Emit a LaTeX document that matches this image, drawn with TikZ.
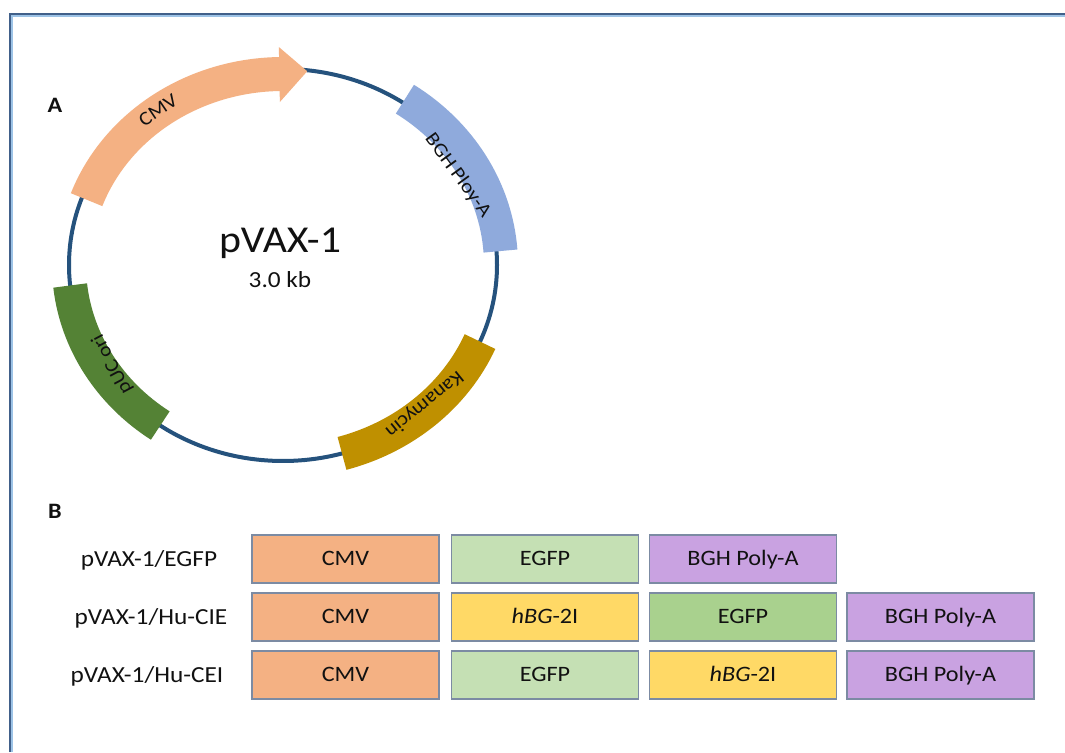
\documentclass[tikz,border=0pt]{standalone}
\usepackage{fontspec}
\setmainfont{Carlito}[FakeStretch=1.1]
\definecolor{ringcol}{HTML}{25527D}
\definecolor{cmvcol}{HTML}{F4B183}
\definecolor{bghcol}{HTML}{8FAADC}
\definecolor{kancol}{HTML}{BF9000}
\definecolor{puccol}{HTML}{548235}
\definecolor{lgreen}{HTML}{C5E0B4}
\definecolor{mgreen}{HTML}{A9D18E}
\definecolor{yelcol}{HTML}{FFD966}
\definecolor{purcol}{HTML}{C9A2E1}
\definecolor{boxline}{HTML}{7C8BA3}
\definecolor{framedark}{HTML}{41608A}
\definecolor{framelight}{HTML}{9DC3E6}
\definecolor{txt}{HTML}{111111}
\begin{document}
\begin{tikzpicture}[x=1pt,y=1pt,
  ring/.style={draw=ringcol,line width=4pt},
  band/.style={line width=34pt},
  arclabel/.style={inner sep=0pt,text height=13pt,text depth=0pt,text=txt,font=\fontsize{19.5}{22}\selectfont},
  genebox/.style={draw=boxline,line width=1.2pt,minimum width=187pt,minimum height=48pt,inner sep=0pt,text height=14pt,text depth=0pt,text=txt,font=\fontsize{22}{26}\selectfont},
  rowlabel/.style={inner sep=0pt,text height=14.5pt,text depth=0pt,text=txt,font=\fontsize{23}{27}\selectfont},
  panel/.style={inner sep=0pt,text height=14pt,text depth=0pt,text=txt,font=\bfseries\fontsize{22}{26}\selectfont}
]
\useasboundingbox (0,0) rectangle (1065,752);
\fill[white] (0,0) rectangle (1065,752);
% frame
\draw[framedark,line width=2pt] (10,0) -- (10,738) -- (1066,738);
\draw[framelight,line width=1.5pt] (11.8,0) -- (11.8,736.2) -- (1066,736.2);

% plasmid ring
\coordinate (C) at (283,487);
\draw[ring] (C) ellipse [x radius=214pt, y radius=196pt];

% CMV arrow
\draw[band,cmvcol] ([shift={(160:209pt and 191pt)}]C) arc[start angle=160,end angle=90.5,x radius=209pt,y radius=191pt];
\fill[cmvcol] ([shift={(91:237pt and 218pt)}]C) -- ([shift={(83.5:214pt and 195pt)}]C) -- ([shift={(91:181pt and 163pt)}]C) -- cycle;
% BGH
\draw[band,bghcol] ([shift={(56:218pt and 200pt)}]C) arc[start angle=56,end angle=4,x radius=218pt,y radius=200pt];
% Kanamycin
\draw[band,kancol] ([shift={(-23:214pt and 196pt)}]C) arc[start angle=-23,end angle=-74,x radius=214pt,y radius=196pt];
% pUC ori
\draw[band,puccol] ([shift={(186:214pt and 196pt)}]C) arc[start angle=186,end angle=235,x radius=214pt,y radius=196pt];

\node[arclabel,rotate=34] (lcmv) at (158,642) {CMV};
\node[arclabel,rotate=-54] (lbgh) at (459,577) {BGH Ploy-A};
\node[arclabel,rotate=-141] (lkan) at (425,347) {Kanamycin};
\node[arclabel,rotate=118] (lpuc) at (111,387) {pUC ori};

\node[inner sep=0pt,text height=23.5pt,text depth=0pt,font=\fontsize{38}{42}\selectfont,text=txt] (name) at (280,511) {pVAX-1};
\node[inner sep=0pt,text height=14.5pt,text depth=0pt,font=\fontsize{23}{26}\selectfont,text=txt] (size) at (280,472) {3.0 kb};

\node[panel] (A) at (55,646) {A};
\node[panel] (B) at (55,240) {B};

% part B
\node[rowlabel] (r1) at (149,193) {pVAX-1/EGFP};
\node[rowlabel] (r2) at (151,135) {pVAX-1/Hu-CIE};
\node[rowlabel] (r3) at (147,77) {pVAX-1/Hu-CEI};

\node[genebox,fill=cmvcol] (b11) at (345.5,193) {CMV};
\node[genebox,fill=lgreen] (b12) at (545,193) {EGFP};
\node[genebox,fill=purcol] (b13) at (743,193) {BGH Poly-A};

\node[genebox,fill=cmvcol] (b21) at (345.5,135) {CMV};
\node[genebox,fill=yelcol] (b22) at (545,135) {\textit{hBG}-2I};
\node[genebox,fill=mgreen] (b23) at (743,135) {EGFP};
\node[genebox,fill=purcol] (b24) at (940.5,135) {BGH Poly-A};

\node[genebox,fill=cmvcol] (b31) at (345.5,77) {CMV};
\node[genebox,fill=lgreen] (b32) at (545,77) {EGFP};
\node[genebox,fill=yelcol] (b33) at (743,77) {\textit{hBG}-2I};
\node[genebox,fill=purcol] (b34) at (940.5,77) {BGH Poly-A};
\end{tikzpicture}
\end{document}
